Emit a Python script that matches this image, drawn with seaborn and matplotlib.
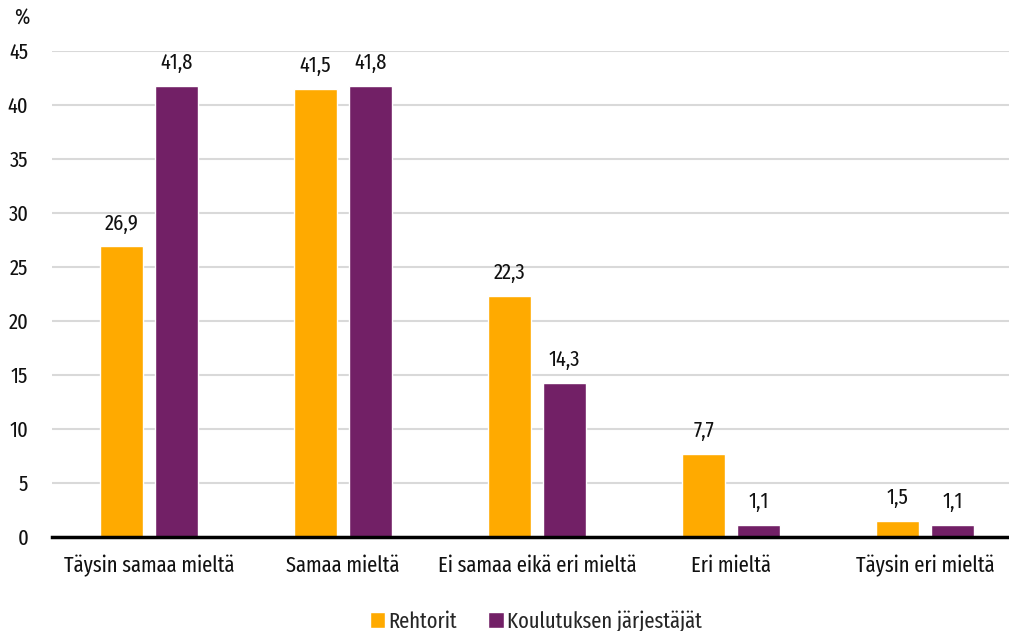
import matplotlib
matplotlib.use("Agg")
import matplotlib.pyplot as plt
import matplotlib.font_manager as fm
import seaborn as sns
import pandas as pd

# Data
categories = ["Täysin samaa mieltä", "Samaa mieltä", "Ei samaa eikä eri mieltä",
              "Eri mieltä", "Täysin eri mieltä"]
rehtorit = [26.9, 41.5, 22.3, 7.7, 1.5]
jarjestajat = [41.8, 41.8, 14.3, 1.1, 1.1]
series_names = ["Rehtorit", "Koulutuksen järjestäjät"]
colors = ["#FFAA00", "#722066"]

df = pd.DataFrame({
    "kategoria": categories * 2,
    "arvo": rehtorit + jarjestajat,
    "ryhma": [series_names[0]] * 5 + [series_names[1]] * 5,
})

sns.set_theme(style="white")
names = {f.name for f in fm.fontManager.ttflist}
font = "DejaVu Sans"
for cand in ["Fira Sans Extra Condensed", "Fira Sans Condensed", "Roboto Condensed",
             "PT Sans Narrow", "Asap Condensed", "Archivo Narrow"]:
    if cand in names:
        font = cand
        break
plt.rcParams["font.family"] = [font, "DejaVu Sans"]
fs = 16

fig = plt.figure(figsize=(10.09, 6.31), dpi=100)
ax = fig.add_axes([52 / 1009, 1 - 537 / 631, 970 / 1009, (537 - 51) / 631])

sns.barplot(data=df, x="kategoria", y="arvo", hue="ryhma", palette=colors,
            width=0.567, gap=0.218, ax=ax, saturation=1)

for cont in ax.containers:
    ax.bar_label(cont, labels=[f"{v:.1f}".replace(".", ",") for v in cont.datavalues],
                 padding=9, fontsize=fs, color="#111111")

ax.set_ylim(0, 45)
ax.set_xlim(-0.5, 4.5)
ax.set_yticks(range(0, 46, 5))
ax.yaxis.grid(True, color="#d9d9d9", linewidth=1.5)
ax.set_axisbelow(True)
ax.set_xlabel("")
ax.set_ylabel("")
ax.tick_params(axis="both", labelsize=fs, colors="#111111", length=0)
ax.tick_params(axis="x", pad=13)
ax.tick_params(axis="y", pad=17)
for s in ["top", "right", "left"]:
    ax.spines[s].set_visible(False)
ax.spines["bottom"].set_color("black")
ax.spines["bottom"].set_linewidth(2.5)

fig.text(14 / 1009, 1 - 18 / 631, "%", fontsize=fs, color="#111111", va="center")

ax.legend_.remove()
handles, labels = ax.get_legend_handles_labels()
fig.legend(handles, labels, loc="center", bbox_to_anchor=(536 / 1009, 1 - 621 / 631),
           ncol=2, frameon=False, fontsize=fs, handlelength=0.7, handleheight=0.7,
           handletextpad=0.15, columnspacing=1.4)

fig.savefig("out.png", dpi=100)
